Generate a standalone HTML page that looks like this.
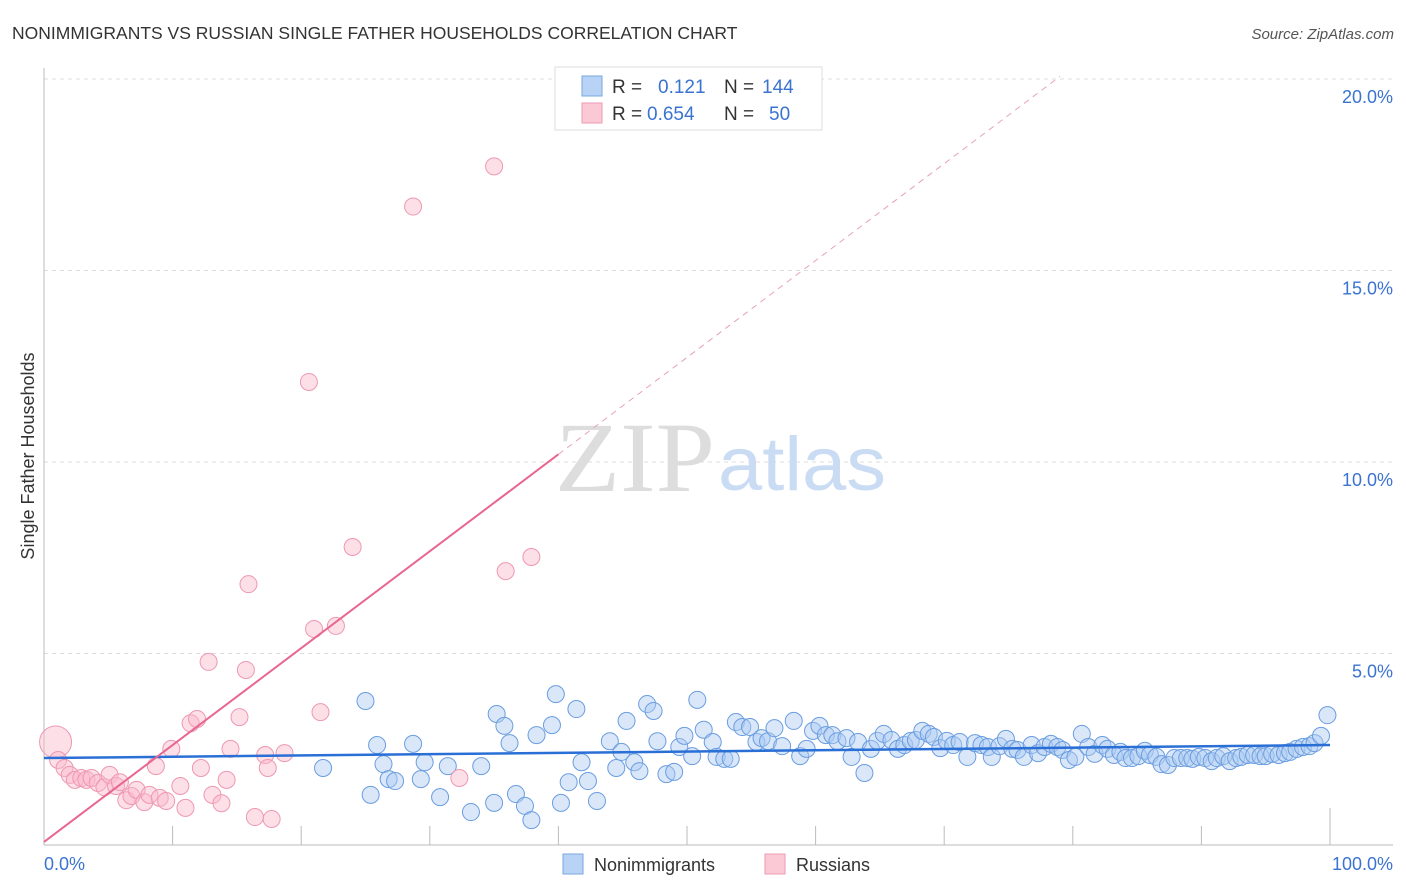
<!DOCTYPE html>
<html><head><meta charset="utf-8"><style>
body{margin:0;background:#fff;font-family:"Liberation Sans",sans-serif;}
svg{display:block}
</style></head><body>
<svg id="chart" width="1406" height="892">
<text x="12" y="39" font-size="17.5" fill="#333">NONIMMIGRANTS VS RUSSIAN SINGLE FATHER HOUSEHOLDS CORRELATION CHART</text>
<text x="1394" y="39" font-size="15" fill="#555" font-style="italic" text-anchor="end">Source: ZipAtlas.com</text>
<text x="34" y="456" font-size="18" fill="#333" transform="rotate(-90 34 456)" text-anchor="middle">Single Father Households</text>
<g id="grid"></g>
<text x="555" y="491" font-size="100" fill="#ddd" textLength="160" lengthAdjust="spacingAndGlyphs" font-family="Liberation Serif,serif">ZIP</text>
<text x="718" y="490" font-size="76" fill="#c9dcf3" textLength="168" lengthAdjust="spacingAndGlyphs">atlas</text>
<g id="pts"></g>
<g id="lines"></g>
<g>
<rect x="555" y="67" width="267" height="63" fill="#fff" stroke="#ddd"/>
<rect x="582" y="76" width="20" height="20" fill="#b8d3f5" stroke="#7aa7e0"/>
<text x="612" y="93" font-size="19" fill="#333">R =</text>
<text x="658" y="93" font-size="19" fill="#3a73d0">0.121</text>
<text x="724" y="93" font-size="19" fill="#333">N =</text>
<text x="762" y="93" font-size="19" fill="#3a73d0">144</text>
<rect x="582" y="103" width="20" height="20" fill="#fbc8d6" stroke="#ee9ab2"/>
<text x="612" y="120" font-size="19" fill="#333">R =</text>
<text x="647" y="120" font-size="19" fill="#3a73d0">0.654</text>
<text x="724" y="120" font-size="19" fill="#333">N =</text>
<text x="769" y="120" font-size="19" fill="#3a73d0">50</text>
</g>
<g>
<rect x="563" y="854" width="20" height="20" fill="#b8d3f5" stroke="#7aa7e0"/>
<text x="594" y="871" font-size="18" fill="#333">Nonimmigrants</text>
<rect x="765" y="854" width="20" height="20" fill="#fbc8d6" stroke="#ee9ab2"/>
<text x="796" y="871" font-size="18" fill="#333">Russians</text>
</g>
</svg>
<script>
const yTicks=[5,10,15,20];
const yTickLabels=["5.0%","10.0%","15.0%","20.0%"];
const xTicks=[0,10,20,30,40,50,60,70,80,90,100];
const blueX=[21.7,25.0,25.4,25.9,26.4,26.8,27.3,28.7,29.3,29.6,30.8,31.4,33.2,34.0,35.0,35.2,35.8,36.2,36.7,37.4,37.9,38.3,39.5,39.8,40.2,40.8,41.4,41.8,42.3,43.0,44.0,44.5,44.9,45.3,45.9,46.3,46.9,47.4,47.7,48.4,49.0,49.4,49.8,50.4,50.8,51.3,52.0,52.3,52.9,53.4,53.8,54.3,54.9,55.4,55.8,56.3,56.8,57.4,58.3,58.8,59.3,59.8,60.3,60.8,61.3,61.7,62.4,62.8,63.3,63.8,64.3,64.8,65.3,65.9,66.4,66.9,67.4,67.8,68.3,68.8,69.2,69.7,70.2,70.7,71.2,71.8,72.4,72.9,73.4,73.7,74.3,74.8,75.3,75.7,76.2,76.8,77.3,77.8,78.3,78.8,79.2,79.7,80.2,80.7,81.2,81.7,82.3,82.7,83.2,83.7,84.1,84.6,85.1,85.6,86.0,86.5,86.9,87.4,87.9,88.4,88.9,89.3,89.8,90.3,90.8,91.2,91.7,92.2,92.7,93.1,93.6,94.1,94.6,95.0,95.5,96.0,96.5,96.9,97.4,97.9,98.4,98.8,99.3,99.8];
const blueY=[2.01,3.76,1.31,2.61,2.11,1.72,1.67,2.64,1.72,2.16,1.25,2.06,0.86,2.06,1.10,3.42,3.11,2.66,1.33,1.02,0.65,2.87,3.13,3.94,1.10,1.64,3.55,2.16,1.67,1.15,2.71,2.01,2.43,3.24,2.16,1.93,3.68,3.50,2.71,1.85,1.91,2.56,2.85,2.32,3.79,3.01,2.69,2.30,2.25,2.25,3.21,3.08,3.08,2.69,2.79,2.71,3.05,2.58,3.24,2.32,2.51,2.98,3.11,2.87,2.87,2.71,2.79,2.30,2.69,1.88,2.51,2.72,2.90,2.74,2.51,2.61,2.72,2.74,2.98,2.90,2.82,2.53,2.72,2.61,2.69,2.30,2.66,2.61,2.56,2.30,2.58,2.77,2.51,2.48,2.30,2.61,2.40,2.56,2.64,2.56,2.48,2.22,2.30,2.90,2.56,2.38,2.61,2.51,2.35,2.43,2.27,2.27,2.32,2.46,2.35,2.30,2.11,2.09,2.27,2.27,2.27,2.25,2.30,2.27,2.19,2.27,2.32,2.19,2.27,2.30,2.35,2.35,2.32,2.32,2.38,2.35,2.40,2.43,2.51,2.56,2.58,2.66,2.85,3.39];
const pinkX=[0.9,1.1,1.6,2.0,2.4,2.9,3.3,3.7,4.2,4.7,5.1,5.6,5.9,6.4,6.8,7.2,7.8,8.2,8.7,9.0,9.5,9.9,10.6,11.0,11.4,11.9,12.2,12.8,13.1,13.8,14.2,14.5,15.2,15.7,15.9,16.4,17.2,17.4,17.7,18.7,20.6,21.0,21.5,22.7,24.0,28.7,32.3,35.0,35.9,37.9];
const pinkY=[2.69,2.22,2.01,1.83,1.70,1.75,1.70,1.75,1.62,1.51,1.83,1.54,1.64,1.17,1.28,1.44,1.12,1.31,2.06,1.23,1.15,2.51,1.54,0.97,3.18,3.29,2.01,4.78,1.31,1.09,1.70,2.51,3.34,4.57,6.81,0.73,2.35,2.01,0.68,2.40,12.09,5.64,3.47,5.72,7.78,16.67,1.75,17.72,7.15,7.52];
const blueLine=[2.27,2.61];
const pinkLine=[0.08,0.253];
const NS="http://www.w3.org/2000/svg";
const X0=44,X1=1330,Y0=845,PY=38.3;
const sx=v=>X0+v*(X1-X0)/100, sy=v=>Y0-v*PY;
function mk(t,a,p){const e=document.createElementNS(NS,t);for(const k in a)e.setAttribute(k,a[k]);p.appendChild(e);return e;}
const grid=document.getElementById('grid');
yTicks.forEach((t,i)=>{
 const l=mk('line',{x1:X0,x2:1393,y1:sy(t),y2:sy(t),stroke:'#ddd','stroke-dasharray':'4,4'},grid);
 
 
 const tx=mk('text',{x:1393,y:sy(t)+24,'font-size':18,fill:'#3a73d0','text-anchor':'end'},grid);
 tx.textContent=yTickLabels[i];
 
 
});
const ax=mk('line',{x1:X0,x2:X0,y1:68,y2:Y0,stroke:'#bbb'},grid);


const bx=mk('line',{x1:X0,x2:1393,y1:Y0,y2:Y0,stroke:'#bbb'},grid);


xTicks.forEach(t=>{
 if(t===0)return;
 const l=mk('line',{x1:sx(t),x2:sx(t),y1:Y0,y2:t===100?808:826,stroke:'#bbb'},grid);
 
 
});
const xl0=mk('text',{x:44,y:870,'font-size':18,fill:'#3a73d0'},grid);xl0.textContent='0.0%';


const xl1=mk('text',{x:1393,y:870,'font-size':18,fill:'#3a73d0','text-anchor':'end'},grid);xl1.textContent='100.0%';


const pts=document.getElementById('pts');
blueX.forEach((x,i)=>{
 const c=mk('circle',{cx:sx(x),cy:sy(blueY[i]),r:8.5,fill:'rgba(170,202,242,0.45)',stroke:'#6a9de0','stroke-width':1},pts);
 
 
});
pinkX.forEach((x,i)=>{
 const c=mk('circle',{cx:sx(x),cy:sy(pinkY[i]),r:i===0?16:8.5,fill:'rgba(250,185,205,0.45)',stroke:'#ee98b2','stroke-width':1},pts);
 
 
});
const lines=document.getElementById('lines');
const bl=mk('line',{x1:sx(0),y1:sy(blueLine[0]),x2:sx(100),y2:sy(blueLine[1]),stroke:'#2a6fd6','stroke-width':2.5},lines);


const pl=mk('line',{x1:sx(0),y1:sy(pinkLine[0]),x2:sx(40),y2:sy(pinkLine[0]+pinkLine[1]*40),stroke:'#e8668f','stroke-width':2},lines);


const pd=mk('line',{x1:sx(40),y1:sy(pinkLine[0]+pinkLine[1]*40),x2:sx(79),y2:sy(pinkLine[0]+pinkLine[1]*79),stroke:'#e8a0b5','stroke-width':1,'stroke-dasharray':'6,5'},lines);


</script>
</body></html>
